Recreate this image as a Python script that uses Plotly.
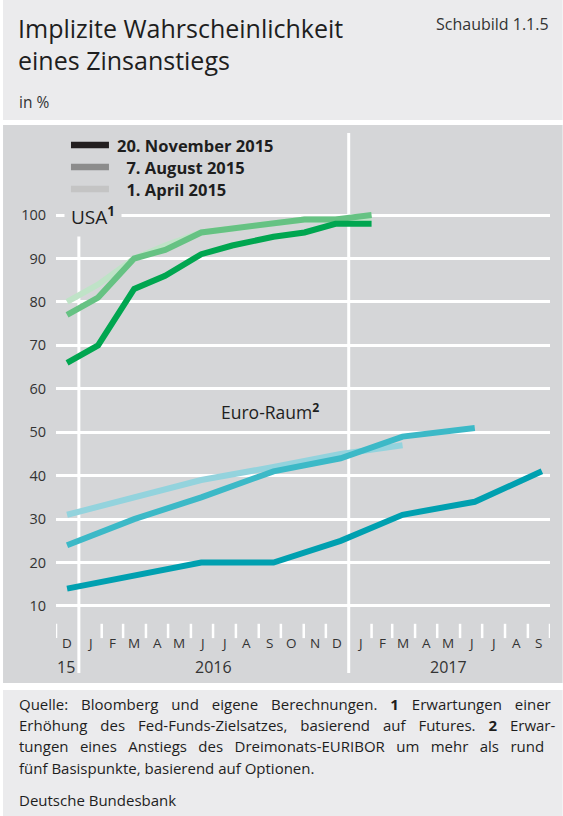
import plotly.graph_objects as go
import pandas as pd

# ---------------- data ----------------
usa_dates = ["2015-12-16", "2016-01-27", "2016-03-16", "2016-04-27", "2016-06-15",
             "2016-07-27", "2016-09-21", "2016-11-02", "2016-12-14", "2017-02-01"]
usa_nov = [66, 70, 83, 86, 91, 93, 95, 96, 98, 98]
usa_aug = [77, 81, 90, 92, 96, 97, 98, 99, 99, 100]
usa_apr = [80, 84, 90, 93, 96, 97, 98, 99, 99, 99]

euro_dates = ["2015-12-16", "2016-03-16", "2016-06-15", "2016-09-21",
              "2016-12-21", "2017-03-15", "2017-06-21", "2017-09-20"]
euro_nov = [14, 17, 20, 20, 25, 31, 34, 41]
euro_aug = [24, 30, 35, 41, 44, 49, 51]
euro_apr = [31, 35, 39, 42, 45, 47]

month_letters = list("DJFMAMJJASONDJFMAMJJAS")
y_ticks = [10, 20, 30, 40, 50, 60, 70, 80, 90, 100]
legend_labels = ["20. November 2015", "\u20077. August 2015", "\u20071. April 2015"]
legend_colors = ["#231f20", "#8c8c8c", "#c4c4c4"]

# ---------------- layout geometry ----------------
W, H = 563, 816
L, R, T, B = 56, 12.6, 133, 143
PW, PH = W - L - R, H - T - B
FONT = "Open Sans"
PANEL = "#d5d6d8"
LIGHT = "#ebebed"
TXT = "#1e1e1e"


def px(x):
    return (x - L) / PW


def py(y):
    return (H - B - y) / PH


fig = go.Figure()

series = [
    (usa_dates, usa_apr, "#bfe3c7", "USA 1. April 2015"),
    (usa_dates, usa_aug, "#66c283", "USA 7. August 2015"),
    (usa_dates, usa_nov, "#00a650", "USA 20. November 2015"),
    (euro_dates[:len(euro_apr)], euro_apr, "#93d3dd", "Euro-Raum 1. April 2015"),
    (euro_dates[:len(euro_aug)], euro_aug, "#3cb9c7", "Euro-Raum 7. August 2015"),
    (euro_dates, euro_nov, "#00a0b0", "Euro-Raum 20. November 2015"),
]
for xs, ys, col, name in series:
    fig.add_trace(go.Scatter(x=xs, y=ys, mode="lines", name=name, showlegend=False,
                             line=dict(color=col, width=6), hoverinfo="x+y+name"))

shapes = []
# background panels
shapes.append(dict(type="rect", xref="paper", yref="paper", x0=px(3), x1=px(563),
                   y0=py(0), y1=py(120), fillcolor=LIGHT, line_width=0, layer="below"))
shapes.append(dict(type="rect", xref="paper", yref="paper", x0=px(3), x1=px(563),
                   y0=py(125), y1=py(683), fillcolor=PANEL, line_width=0, layer="below"))
shapes.append(dict(type="rect", xref="paper", yref="paper", x0=px(3), x1=px(563),
                   y0=py(690), y1=py(816), fillcolor=LIGHT, line_width=0, layer="below"))

# month tick marks and year separators
month_starts = pd.date_range("2015-12-01", "2017-10-01", freq="MS")
for d in month_starts:
    if d.month == 1:
        y_top = 96.6 if d.year == 2016 else 118.9
        shapes.append(dict(type="line", xref="x", yref="y", x0=d, x1=d, y0=-5.43, y1=y_top,
                           line=dict(color="white", width=3), layer="below"))
    else:
        shapes.append(dict(type="line", xref="x", yref="y", x0=d, x1=d, y0=2.6, y1=5.9,
                           line=dict(color="white", width=2.5), layer="below"))

# legend swatches
legend_y = [145, 167, 189]
for yy, col in zip(legend_y, legend_colors):
    shapes.append(dict(type="line", xref="paper", yref="paper", x0=px(71), x1=px(109),
                       y0=py(yy), y1=py(yy), line=dict(color=col, width=6.5)))

annotations = []
for yy, lab in zip(legend_y, legend_labels):
    annotations.append(dict(xref="paper", yref="paper", x=px(115), y=py(yy), text="<b>%s</b>" % lab,
                            showarrow=False, xanchor="left", yanchor="middle",
                            font=dict(family=FONT, size=16.5, color=TXT)))

# month letters
mids = month_starts[:-1] + pd.Timedelta(days=15)
for d, letter in zip(mids, month_letters):
    annotations.append(dict(xref="x", yref="y", x=d, y=1.4, text=letter, showarrow=False,
                            xanchor="center", yanchor="middle",
                            font=dict(family=FONT, size=13.5, color="#333333")))
# years
annotations.append(dict(xref="x", yref="y", x="2016-01-01", y=-4.0, text="15", showarrow=False,
                        xanchor="right", xshift=-2, yanchor="middle",
                        font=dict(family=FONT, size=16, color="#333333")))
annotations.append(dict(xref="x", yref="y", x="2016-07-01", y=-4.0, text="2016", showarrow=False,
                        xanchor="center", yanchor="middle",
                        font=dict(family=FONT, size=16, color="#333333")))
annotations.append(dict(xref="x", yref="y", x="2017-05-16", y=-4.0, text="2017", showarrow=False,
                        xanchor="center", yanchor="middle",
                        font=dict(family=FONT, size=16, color="#333333")))

# series labels
annotations.append(dict(xref="paper", yref="paper", x=px(64), y=py(216), text="USA<sup><b>1</b></sup>",
                        showarrow=False, xanchor="left", yanchor="middle", bgcolor=PANEL, borderpad=6,
                        font=dict(family=FONT, size=19, color=TXT)))
annotations.append(dict(xref="paper", yref="paper", x=px(219), y=py(411), text="Euro-Raum<sup><b>2</b></sup>",
                        showarrow=False, xanchor="left", yanchor="middle",
                        font=dict(family=FONT, size=17.5, color=TXT)))

# header texts
annotations.append(dict(xref="paper", yref="paper", x=px(16), y=py(28),
                        text="Implizite Wahrscheinlichkeit", showarrow=False,
                        xanchor="left", yanchor="middle", font=dict(family=FONT, size=25, color=TXT)))
annotations.append(dict(xref="paper", yref="paper", x=px(16), y=py(60),
                        text="eines Zinsanstiegs", showarrow=False,
                        xanchor="left", yanchor="middle", font=dict(family=FONT, size=25, color=TXT)))
annotations.append(dict(xref="paper", yref="paper", x=px(551), y=py(24),
                        text="Schaubild 1.1.5", showarrow=False,
                        xanchor="right", yanchor="middle", font=dict(family=FONT, size=16, color="#333333")))
annotations.append(dict(xref="paper", yref="paper", x=px(17), y=py(102),
                        text="in %", showarrow=False,
                        xanchor="left", yanchor="middle", font=dict(family=FONT, size=15.5, color="#333333")))

# footer (justified by widened word gaps)
EN, HA = "\u2002", "\u200a"
footer_words = [
    (["Quelle:", "Bloomberg", "und", "eigene", "Berechnungen.", "<b>1</b>", "Erwartungen", "einer"], " " + EN + HA),
    (["Erhöhung", "des", "Fed-Funds-Zielsatzes,", "basierend", "auf", "Futures.", "<b>2</b>", "Erwar-"], " " + EN + HA),
    (["tungen", "eines", "Anstiegs", "des", "Dreimonats-EURIBOR", "um", "mehr", "als", "rund"], " " + EN),
    (["fünf", "Basispunkte,", "basierend", "auf", "Optionen."], " "),
]
for i, (words, gap) in enumerate(footer_words):
    annotations.append(dict(xref="paper", yref="paper", x=px(17), y=py(704 + 21.2 * i), text=gap.join(words),
                            showarrow=False, xanchor="left", yanchor="middle",
                            font=dict(family=FONT, size=15, color=TXT)))
annotations.append(dict(xref="paper", yref="paper", x=px(17), y=py(800), text="Deutsche Bundesbank",
                        showarrow=False, xanchor="left", yanchor="middle",
                        font=dict(family=FONT, size=15, color=TXT)))

fig.update_layout(
    width=W, height=H,
    margin=dict(l=L, r=R, t=T, b=B, pad=0),
    paper_bgcolor="white", plot_bgcolor=PANEL,
    showlegend=False,
    shapes=shapes, annotations=annotations,
    xaxis=dict(type="date", range=["2015-12-01", "2017-10-01"], showgrid=False, zeroline=False,
               showticklabels=False, ticks="", showline=False),
    yaxis=dict(range=[-5.43, 118.9], tickvals=y_ticks, showgrid=True, gridcolor="white", gridwidth=2.5,
               zeroline=False, ticks="", showline=False, ticklabelstandoff=9,
               tickfont=dict(family=FONT, size=14.5, color="#333333")),
)

fig.write_html("out.html", config={"displayModeBar": False},
               post_script="document.body.style.margin='0px';")
